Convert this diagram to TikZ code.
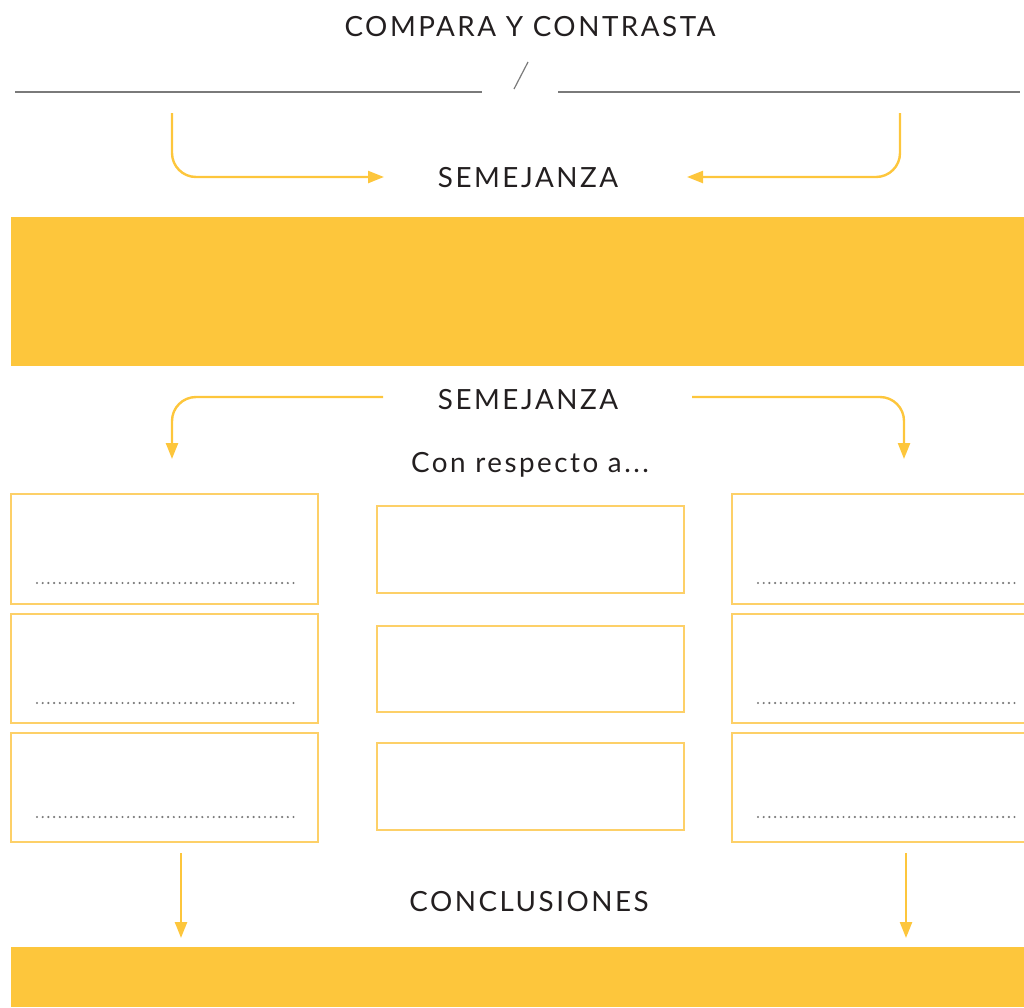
\documentclass[tikz,border=0pt]{standalone}
\usepackage{fontspec}
\setmainfont{Lato}[LetterSpace=9]
\usetikzlibrary{arrows.meta}
\definecolor{amar}{HTML}{FDC63C}
\definecolor{amarbox}{HTML}{FDD068}
\definecolor{gris}{HTML}{7A7A7A}
\definecolor{texto}{HTML}{231F20}
\begin{document}
\begin{tikzpicture}[x=1pt,y=-1pt,
  lbl/.style={font=\fontsize{27.8}{30}\selectfont, text=texto, inner sep=0pt},
  flecha/.style={draw=amar, line width=2.4pt, -{Triangle[length=16pt,width=12pt]}, rounded corners=24pt},
  caja/.style={draw=amarbox, line width=1.1pt},
  banda/.style={fill=amar, draw=none},
  punteado/.style={draw=gris, line width=2.4pt, line cap=round, dash pattern=on 0pt off 5.7pt},
  raya/.style={draw=gris, line width=1.3pt}]
\useasboundingbox (0,0) rectangle (1024,1007);
% title
\node[lbl] (titulo) at (530,27) {COMPARA Y CONTRASTA};
\coordinate (l1a) at (15,92); \coordinate (l1b) at (482,92);
\coordinate (l2a) at (558,92); \coordinate (l2b) at (1020,92);
\coordinate (sa) at (528,62); \coordinate (sb) at (514,89);
\draw[raya] (l1a) -- (l1b);
\draw[raya] (l2a) -- (l2b);
\draw[draw=gris, line width=1.2pt] (sa) -- (sb);
% semejanza 1
\node[lbl] (sem1) at (528,178) {SEMEJANZA};
\coordinate (a1) at (172,113); \coordinate (a1e) at (384,177);
\coordinate (a2) at (900,113); \coordinate (a2e) at (687,177);
\draw[flecha] (a1) |- (a1e);
\draw[flecha] (a2) |- (a2e);
% band
\fill[banda] (11,217) rectangle (1024,366);
% semejanza 2
\node[lbl] (sem2) at (528,400) {SEMEJANZA};
\coordinate (b1) at (383,397); \coordinate (b1e) at (172,459);
\coordinate (b2) at (692,397); \coordinate (b2e) at (904,459);
\draw[flecha] (b1) -| (b1e);
\draw[flecha] (b2) -| (b2e);
\node[lbl] (resp) at (530,465) {Con respecto a...};
% side boxes
\foreach \t/\b/\d in {494/604/583, 614/723/703, 733/842/817}{
  \draw[caja] (11,\t) rectangle (318,\b);
  \draw[punteado] (37,\d) -- (297,\d);
  \draw[caja] (732,\t) rectangle (1035,\b);
  \draw[punteado] (758,\d) -- (1019,\d);
}
% middle boxes
\foreach \t/\b in {506/593, 626/712, 743/830}{
  \draw[caja] (377,\t) rectangle (684,\b);
}
% down arrows
\coordinate (c1) at (181,853); \coordinate (c1e) at (181,938);
\coordinate (c2) at (906,853); \coordinate (c2e) at (906,938);
\draw[flecha] (c1) -- (c1e);
\draw[flecha] (c2) -- (c2e);
\node[lbl] (concl) at (529,902) {CONCLUSIONES};
\fill[banda] (11,947) rectangle (1024,1007);
\end{tikzpicture}
\end{document}
